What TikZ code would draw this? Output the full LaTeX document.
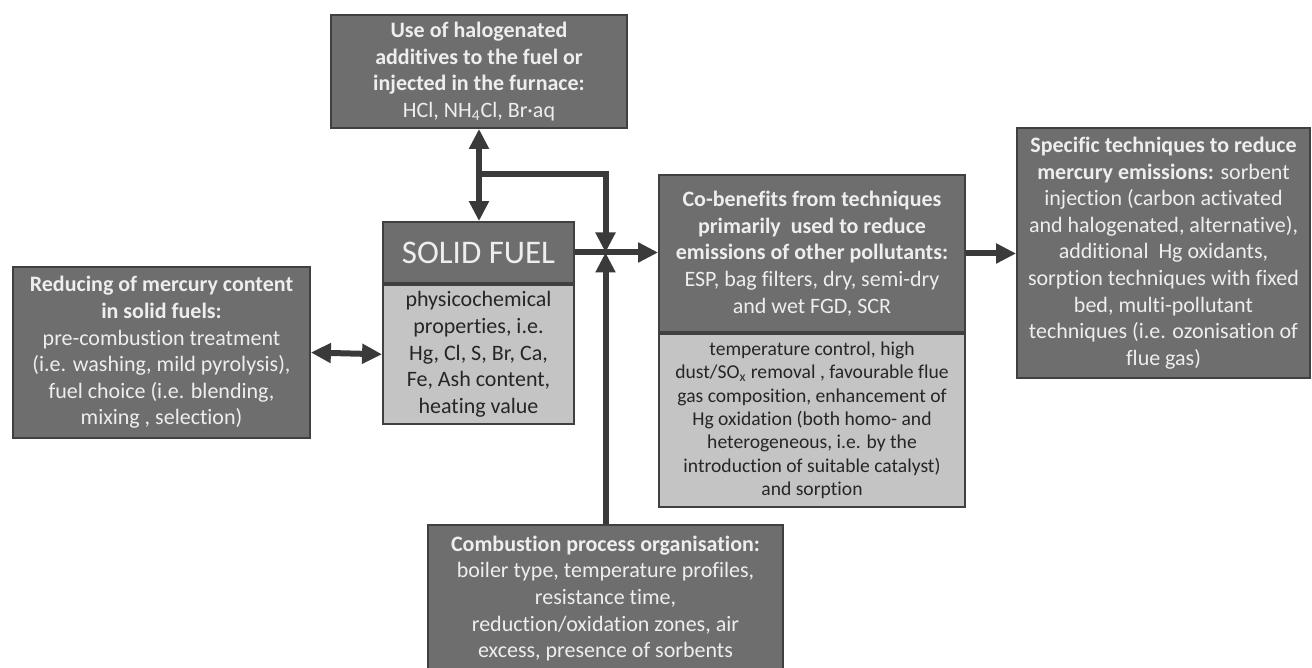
\documentclass[tikz,border=0pt]{standalone}
\usepackage{fontspec}
\setmainfont{Carlito}[Ligatures=NoCommon]
\usetikzlibrary{positioning,arrows.meta}
\definecolor{boxdark}{HTML}{6E6E6E}
\definecolor{boxlight}{HTML}{C4C4C4}
\definecolor{edgegray}{HTML}{404040}
\definecolor{arrowgray}{HTML}{3A3A3A}
\definecolor{textlight}{HTML}{EEEEEE}

\begin{document}
\begin{tikzpicture}[%
    x=0.5pt,
    y=-0.5pt,
    >={Triangle[width=9.5pt,length=10pt]},
    flow/.style={%
      line width=3pt,
      draw=arrowgray
    },
    darkbox/.style={%
      rectangle,
      draw=edgegray,
      line width=0.9pt,
      fill=boxdark,
      text=textlight,
      align=center,
      inner sep=0pt,
      font=\fontsize{11}{13.3}\selectfont
    },
    lightbox/.style={%
      darkbox,
      fill=boxlight,
      text=black!85
    }
  ]
    \useasboundingbox (0,0) rectangle (1312,668);

    \node[darkbox, minimum width=148pt, minimum height=56.5pt] (halogen) at (479,71.5)
      {\textbf{Use of halogenated}\\ \textbf{additives to the fuel or}\\ \textbf{injected in the furnace:}\\ HCl, NH\textsubscript{4}Cl, Br·aq};

    \node[darkbox, minimum width=148.5pt, minimum height=85.5pt] (reduce) at (161.5,352.5)
      {\textbf{Reducing of mercury content}\\ \textbf{in solid fuels:}\\ pre-combustion treatment\\ (i.e. washing, mild pyrolysis),\\ fuel choice (i.e. blending,\\ mixing , selection)};

    \node[darkbox, minimum width=95.5pt, minimum height=30.5pt,
          font=\fontsize{16.5}{19}\selectfont] (fuelhead) at (478.5,252.5) {SOLID FUEL};
    \node[lightbox, minimum width=95.5pt, minimum height=69.5pt] (fuelbody) [below=0pt of fuelhead]
      {physicochemical\\ properties, i.e.\\ Hg, Cl, S, Br, Ca,\\ Fe, Ash content,\\ heating value};

    \node[darkbox, minimum width=153pt, minimum height=78.5pt] (cobhead) at (812,253.5)
      {\textbf{Co-benefits from techniques}\\ \textbf{primarily~ used to reduce}\\ \textbf{emissions of other pollutants:}\\ ESP, bag filters, dry, semi-dry\\ and wet FGD, SCR};
    \node[lightbox, minimum width=153pt, minimum height=86.5pt,
          font=\fontsize{9.8}{11.7}\selectfont] (cobbody) [below=0pt of cobhead]
      {temperature control, high\\ dust/SO\textsubscript{x} removal , favourable flue\\ gas composition, enhancement of\\ Hg oxidation (both homo- and\\ heterogeneous, i.e. by the\\ introduction of suitable catalyst)\\ and sorption};

    \node[darkbox, minimum width=146.5pt, minimum height=125pt] (specific) at (1163.5,253)
      {\textbf{Specific techniques to reduce}\\ \textbf{mercury emissions:} sorbent\\ injection (carbon activated\\ and halogenated, alternative),\\ additional~ Hg oxidants,\\ sorption techniques with fixed\\ bed, multi-pollutant\\ techniques (i.e. ozonisation of\\ flue gas)};

    \node[darkbox, minimum width=177.5pt, minimum height=73.5pt] (comb) at (605.5,598.5)
      {\textbf{Combustion process organisation:}\\ boiler type, temperature profiles,\\ resistance time,\\ reduction/oxidation zones, air\\ excess, presence of sorbents};

    \coordinate (junc) at (comb.north |- fuelhead.east);
    \coordinate (tap) at (479,174);

    \draw[flow,<->] (halogen.south) -- (halogen.south |- fuelhead.north);
    \draw[flow,->] (tap) -| (junc);
    \draw[flow,->] (comb.north) -- (junc);
    \draw[flow] (fuelhead.east) -- (junc);
    \draw[flow,->] (junc) -- (junc -| cobhead.west);
    \draw[flow,->] (cobhead.east) -- (cobhead.east -| specific.west);
    \draw[flow,<->] (reduce.east) -- (fuelbody.west);
  \end{tikzpicture}
\end{document}
